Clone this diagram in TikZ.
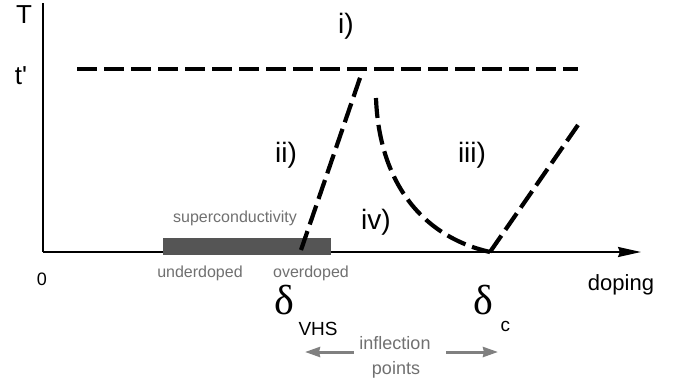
\documentclass[tikz,border=0pt]{standalone}
\usepackage{fontspec}
\setmainfont{Liberation Sans}
\newfontfamily\plainfont{Liberation Sans}
\newfontfamily\deltafont{Liberation Serif}
\usetikzlibrary{arrows.meta}
\definecolor{bargray}{HTML}{555555}
\definecolor{txtgray}{HTML}{707070}
\definecolor{arrgray}{HTML}{808080}
\begin{document}
\begin{tikzpicture}[x=1pt,y=-1pt,
  axisline/.style={line width=2pt},
  dashline/.style={line width=4.2pt,dash pattern=on 20pt off 7pt},
  region/.style={font=\fontsize{28}{30}\selectfont},
  small/.style={font=\fontsize{16}{18}\selectfont,text=txtgray},
  gray arrow/.style={line width=3pt,draw=arrgray,-{Stealth[length=15pt,width=10pt,inset=1pt]}}]
\useasboundingbox (0,0) rectangle (680,386);
% axes
\coordinate (o) at (43,252);
\coordinate (ytop) at (43,3);
\coordinate (xend) at (641,252);
\draw[axisline] (ytop) -- (o);
\draw[axisline,-{Stealth[length=23pt,width=10pt,inset=2pt]}] (o) -- (xend);
% superconductivity bar
\fill[bargray] (163,238) rectangle (331,255);
\node[small] (sc) at (235,218) {superconductivity};
\node[small] (ud) at (200,273) {underdoped};
\node[small] (od) at (311,273) {overdoped};
% axis labels
\node[font=\fontsize{26}{28}\selectfont] (T) at (24,15) {T};
\node[font=\fontsize{26}{28}\selectfont\plainfont] (tp) at (21,76) {t'};
\node[font=\fontsize{18}{20}\selectfont] (zero) at (42,279) {0};
\node[font=\fontsize{22}{24}\selectfont] (dop) at (621,285) {doping};
% dashed curves
\coordinate (h1) at (77,69);
\coordinate (h2) at (578,69);
\draw[dashline] (h1) -- (h2);
\coordinate (a1) at (301,250);
\coordinate (a2) at (361,75);
\draw[dashline] (a1) -- (a2);
\coordinate (c1) at (376,98);
\coordinate (cmin) at (490,252);
\coordinate (c2) at (578,125);
\draw[dashline] (c1) .. controls (379,180) and (420,236) .. (cmin);
\draw[dashline] (cmin) -- (c2);
% region labels
\node[region] (ri) at (346,26) {i)};
\node[region] (rii) at (286,155) {ii)};
\node[region] (riii) at (472,155) {iii)};
\node[region] (riv) at (376,222) {iv)};
% deltas
\node[font=\fontsize{42}{44}\selectfont\deltafont] (dv) at (284,300) {δ};
\node[font=\fontsize{19}{21}\selectfont,anchor=west] (vhs) at (295,329) {VHS};
\node[font=\fontsize{42}{44}\selectfont\deltafont] (dc) at (483,300) {δ};
\node[font=\fontsize{19}{21}\selectfont,anchor=west] (cc) at (497,326) {c};
% inflection points
\node[font=\fontsize{18}{20}\selectfont,text=txtgray] (infl) at (395,343) {inflection};
\node[font=\fontsize{18}{20}\selectfont,text=txtgray] (pts) at (396,370) {points};
\coordinate (la) at (305,352);
\coordinate (ra) at (498,352);
\draw[gray arrow] (infl.west |- la) ++(-2,0) coordinate (ls) -- (la);
\draw[gray arrow] (infl.east |- ra) ++(12,0) coordinate (rs) -- (ra);
\end{tikzpicture}
\end{document}
